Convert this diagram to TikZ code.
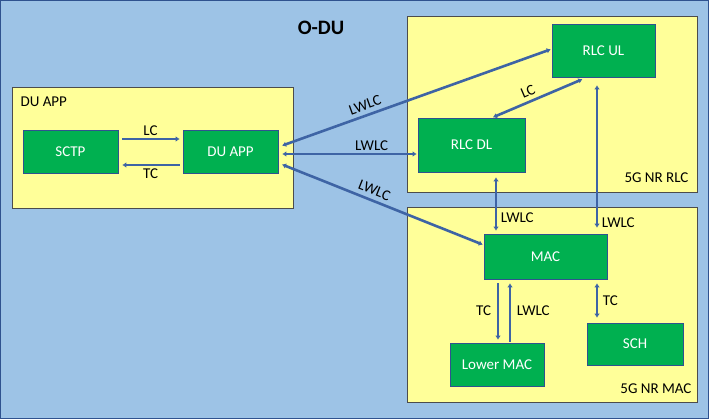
\documentclass[tikz,border=0pt]{standalone}
\usepackage{fontspec}
\setmainfont{Carlito}
\usetikzlibrary{calc,positioning,arrows.meta}

\definecolor{odublue}{RGB}{157,195,230}
\definecolor{oduline}{RGB}{47,82,143}
\definecolor{grpyellow}{RGB}{255,255,153}
\definecolor{blkgreen}{RGB}{0,176,80}
\definecolor{linkblue}{RGB}{62,100,165}

\begin{document}
\begin{tikzpicture}[x=1pt,y=-1pt,
		font=\fontsize{15}{17}\selectfont,
		grp/.style={draw=black!70,line width=.6pt,fill=grpyellow,inner sep=0pt},
		blk/.style={draw=oduline,line width=.6pt,fill=blkgreen,text=white,inner sep=0pt},
		link/.style={draw=linkblue,line width=2.6pt,{Latex[length=4pt,width=5.5pt]}-{Latex[length=4pt,width=5.5pt]}},
		onelink/.style={draw=linkblue,line width=2.6pt,-{Latex[length=4pt,width=5.5pt]}},
		lbl/.style={inner sep=1.5pt}]
			\useasboundingbox (0,0) rectangle (709,419);
			\draw[fill=odublue,draw=oduline,line width=1pt] (.5,.5) rectangle (708.5,418.5);
			\node[font=\fontsize{20.5}{22}\selectfont\bfseries] (title) at (321,28) {O-DU};

			% groups
			\node[grp,minimum width=281pt,minimum height=121pt] (dugrp) at (152.5,147.5) {};
			\node[grp,minimum width=290pt,minimum height=176pt] (rlcgrp) at (552,104) {};
			\node[grp,minimum width=290pt,minimum height=195pt] (macgrp) at (552,304.5) {};
			\node[anchor=west] (dulbl) at (17,102) {DU APP};
			\node[anchor=east] (rlclbl) at (692,178) {5G NR RLC};
			\node[anchor=east] (maclbl) at (695,389) {5G NR MAC};

			% blocks
			\node[blk,minimum width=95pt,minimum height=43pt] (sctp) at (70.5,151.5) {SCTP};
			\node[blk,minimum width=95pt,minimum height=43pt] (duapp) at (230.5,151.5) {DU APP};
			\node[blk,minimum width=103pt,minimum height=53pt] (rlcul) at (603.5,50.5) {RLC UL};
			\node[blk,minimum width=107pt,minimum height=54pt] (rlcdl) at (471.5,145) {RLC DL};
			\node[blk,minimum width=123pt,minimum height=45pt] (mac) at (545.5,256.5) {MAC};
			\node[blk,minimum width=94pt,minimum height=43pt] (lowmac) at (497,364.5) {Lower MAC};
			\node[blk,minimum width=96pt,minimum height=42pt] (sch) at (635,344) {SCH};

			% DU APP internal
			\draw[onelink,line width=2.2pt,shorten <=4pt,shorten >=3pt] ([yshift=12.5pt]sctp.east) -- node[lbl,above=1pt] {LC} ([yshift=12.5pt]duapp.west);
			\draw[onelink,line width=2.2pt,shorten <=3pt,shorten >=4pt] ([yshift=-13.5pt]duapp.west) -- node[lbl,below=1pt] {TC} ([yshift=-13.5pt]sctp.east);

			% DU APP to RLC and MAC
			\coordinate (duup) at ([yshift=4.5pt]duapp.east);
			\coordinate (dumid) at ([yshift=-2.5pt]duapp.east);
			\coordinate (dulow) at ([yshift=-11.5pt]duapp.east);
			\draw[link,shorten <=4pt,shorten >=1pt] (duup) -- node[lbl,pos=.33,above=2.5pt,sloped] {LWLC} ([yshift=1.5pt]rlcul.west);
			\draw[link,shorten <=4pt,shorten >=1pt] (dumid) -- node[lbl,pos=.67,above=1pt] {LWLC} (dumid -| rlcdl.west);
			\draw[link,shorten <=4pt,shorten >=1pt] (dulow) -- node[lbl,pos=.45,above=2.5pt,sloped] {LWLC} ([yshift=11.5pt]mac.west);

			% RLC
			\draw[link,shorten <=1pt,shorten >=5pt] ([xshift=20.5pt]rlcdl.north) -- node[lbl,pos=.42,above=2.5pt,sloped] {LC} ([xshift=-16.5pt]rlcul.south);
			\coordinate (dldown) at ([xshift=24.5pt]rlcdl.south);
			\coordinate (uldown) at ([xshift=-6.5pt]rlcul.south);
			\draw[link,shorten <=5pt,shorten >=3pt] (dldown) -- node[lbl,pos=.74,right=2pt] {LWLC} (dldown |- mac.north);
			\draw[link,shorten <=8pt,shorten >=6pt] (uldown) -- node[lbl,pos=.93,right=2pt] {LWLC} (uldown |- mac.north);

			% MAC
			\coordinate (tcdown) at ([xshift=-47.5pt]mac.south);
			\coordinate (lwup) at ([xshift=13pt]lowmac.north);
			\coordinate (schup) at ([xshift=51.5pt]mac.south);
			\draw[onelink,shorten <=4pt,shorten >=3pt] (tcdown) -- node[lbl,left=4pt] {TC} (tcdown |- lowmac.north);
			\draw[onelink,shorten <=1pt,shorten >=4pt] (lwup) -- node[lbl,right=4pt] {LWLC} (lwup |- mac.south);
			\draw[link,shorten <=4pt,shorten >=5pt] (schup) -- node[lbl,right=3pt] {TC} (schup |- sch.north);
		\end{tikzpicture}
\end{document}
